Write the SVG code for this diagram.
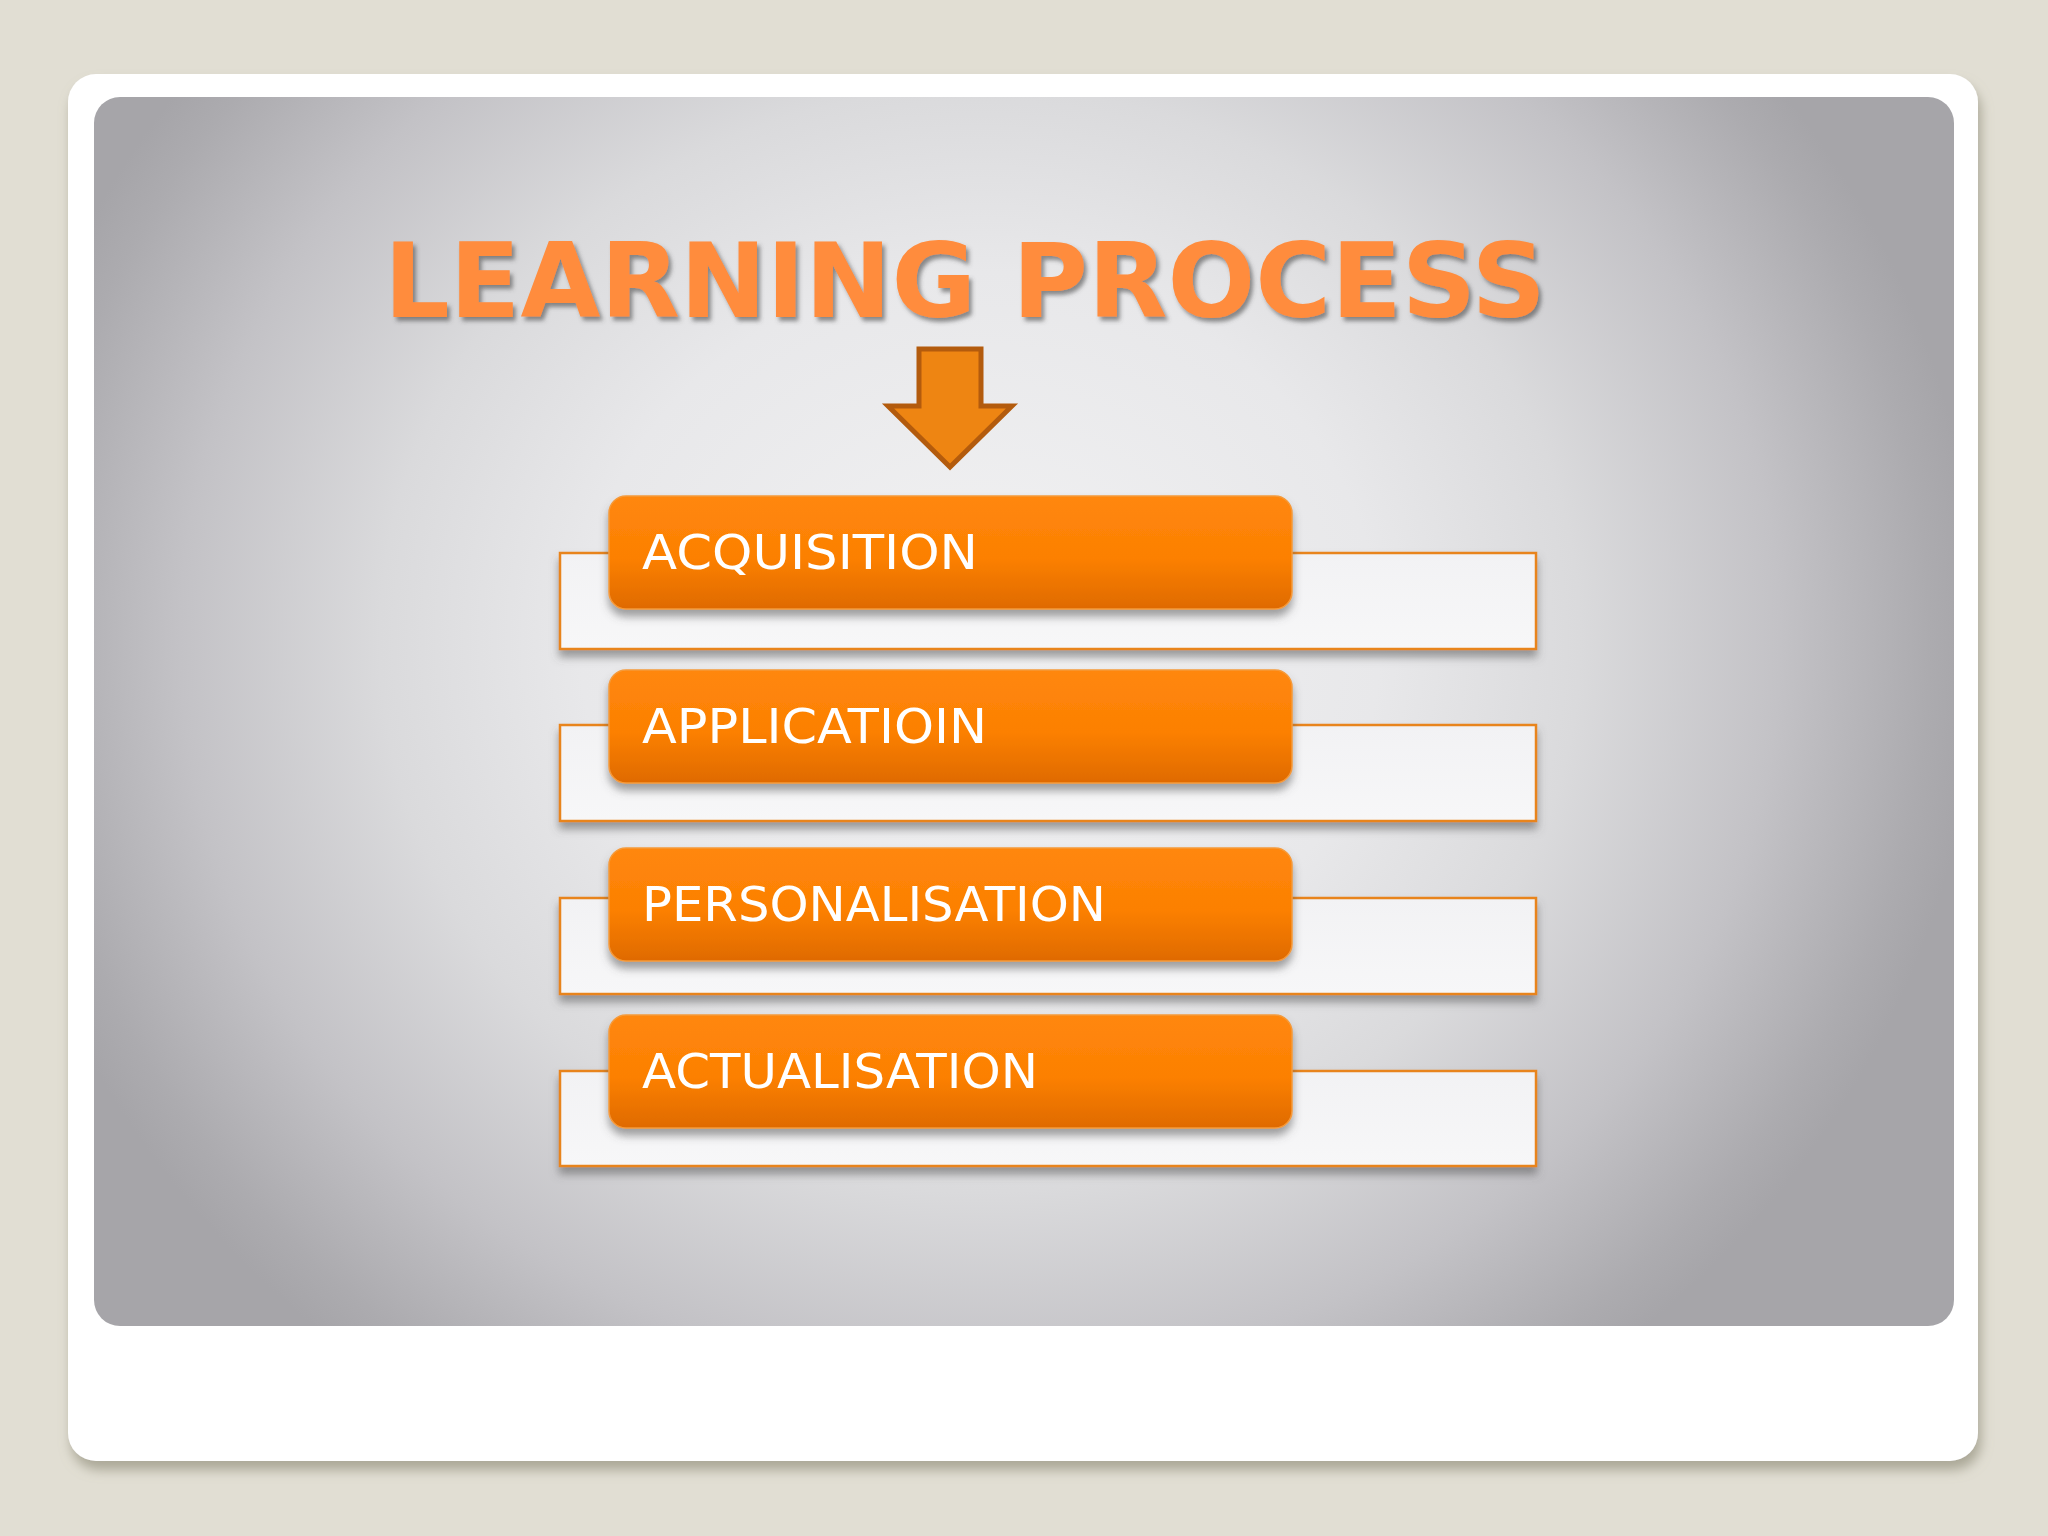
<svg xmlns="http://www.w3.org/2000/svg" width="2048" height="1536" viewBox="0 0 2048 1536">
<defs>
<radialGradient id="panelGrad" gradientUnits="userSpaceOnUse" cx="980" cy="640" r="1000" gradientTransform="translate(0 51.2) scale(1 0.92)">
<stop offset="0" stop-color="#F2F2F3"/>
<stop offset="0.4" stop-color="#E8E8EA"/>
<stop offset="0.6" stop-color="#DADADC"/>
<stop offset="0.8" stop-color="#C3C2C6"/>
<stop offset="0.95" stop-color="#ACABAF"/>
<stop offset="1" stop-color="#A6A5A9"/>
</radialGradient>
<linearGradient id="orangeGrad" x1="0" y1="0" x2="0" y2="1">
<stop offset="0" stop-color="#FF870A"/>
<stop offset="0.55" stop-color="#FC8004"/>
<stop offset="1" stop-color="#DF6A00"/>
</linearGradient>
<linearGradient id="whiteGrad" x1="0" y1="0" x2="0" y2="1">
<stop offset="0" stop-color="#F2F2F4"/>
<stop offset="1" stop-color="#F7F7F8"/>
</linearGradient>
<filter id="cardShadow" x="-5%" y="-5%" width="110%" height="115%">
<feDropShadow dx="3" dy="9" stdDeviation="6" flood-color="#8E8B78" flood-opacity="0.65"/>
</filter>
<filter id="boxShadow" x="-5%" y="-20%" width="110%" height="150%">
<feDropShadow dx="0" dy="7" stdDeviation="4" flood-color="#555" flood-opacity="0.55"/>
</filter>
<filter id="titleShadow" x="-5%" y="-20%" width="110%" height="150%">
<feDropShadow dx="3" dy="4" stdDeviation="2" flood-color="#4A4A4A" flood-opacity="0.6"/>
</filter>
<style>
.orange{fill:url(#orangeGrad);stroke:#F59A3A;stroke-width:1.5;filter:url(#boxShadow)}
.white{fill:url(#whiteGrad);stroke:#E8841E;stroke-width:2.5;filter:url(#boxShadow)}
.label{font-family:"DejaVu Sans",Verdana,sans-serif;font-size:48px;fill:#FFFFFF}
.title{font-family:"DejaVu Sans",Verdana,sans-serif;font-weight:bold;font-size:103px;fill:#FF8C3C;filter:url(#titleShadow)}
</style>
</defs>
<rect x="0" y="0" width="2048" height="1536" fill="#E1DED3"/>
<rect x="68" y="74" width="1910" height="1387" rx="28" fill="#FFFFFF" filter="url(#cardShadow)"/>
<rect x="94" y="97" width="1860" height="1229" rx="26" fill="url(#panelGrad)"/>
<g id="title">
<text class="title" x="384" y="317" textLength="1162" lengthAdjust="spacingAndGlyphs">LEARNING PROCESS</text>
</g>
<g id="connectors">
<polygon points="919,349 981,349 981,406 1012,406 950,467 888,406 919,406" fill="#EE8512" stroke="#B35B0D" stroke-width="5" stroke-linejoin="miter"/>
</g>
<g id="node-acquisition">
<rect class="white" x="560" y="553" width="976" height="96"/>
<rect class="orange" x="609" y="496" width="683" height="113" rx="17"/>
<text class="label" x="642" y="569" textLength="336" lengthAdjust="spacingAndGlyphs">ACQUISITION</text>
</g>
<g id="node-application">
<rect class="white" x="560" y="725" width="976" height="96"/>
<rect class="orange" x="609" y="670" width="683" height="113" rx="17"/>
<text class="label" x="642" y="743" textLength="345" lengthAdjust="spacingAndGlyphs">APPLICATIOIN</text>
</g>
<g id="node-personalisation">
<rect class="white" x="560" y="898" width="976" height="96"/>
<rect class="orange" x="609" y="848" width="683" height="113" rx="17"/>
<text class="label" x="642" y="921" textLength="464" lengthAdjust="spacingAndGlyphs">PERSONALISATION</text>
</g>
<g id="node-actualisation">
<rect class="white" x="560" y="1071" width="976" height="95"/>
<rect class="orange" x="609" y="1015" width="683" height="113" rx="17"/>
<text class="label" x="642" y="1088" textLength="396" lengthAdjust="spacingAndGlyphs">ACTUALISATION</text>
</g>
</svg>
